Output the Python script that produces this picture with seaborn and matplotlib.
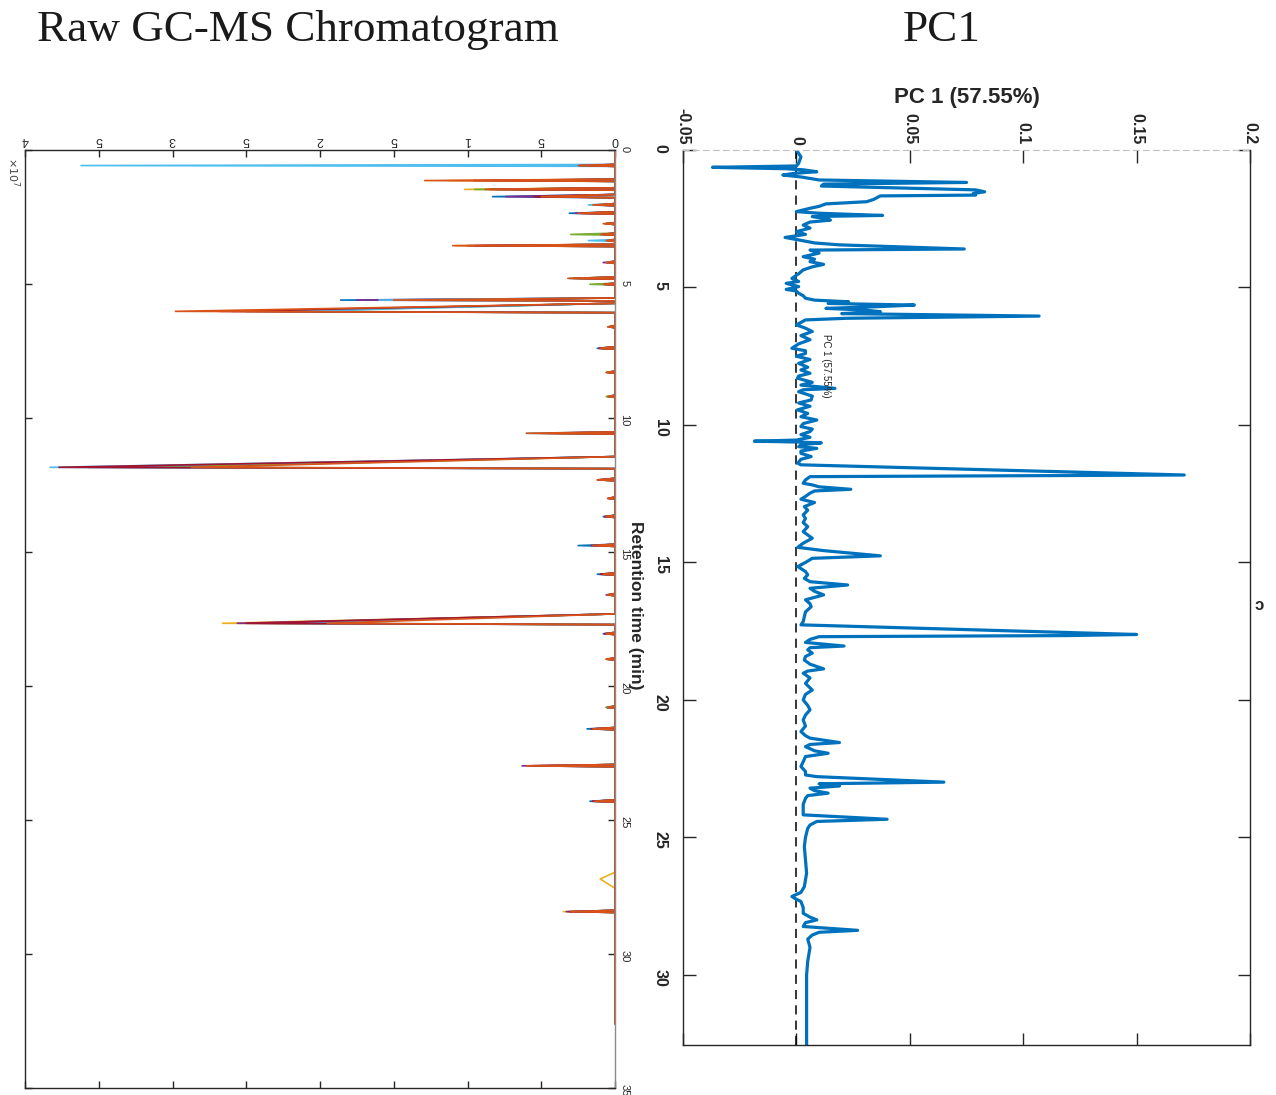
import numpy as np
import pandas as pd
import matplotlib
matplotlib.use("Agg")
import matplotlib.pyplot as plt
import seaborn as sns

# ---------------- data: raw GC-MS chromatogram (intensity x1e7) ----------------
peak_times = [0.58, 1.14, 1.47, 1.74, 2.05, 2.36, 2.75, 3.15, 3.38, 3.57, 4.20, 4.79,
              5.01, 5.60, 6.02, 6.60, 7.40, 8.30, 9.20, 10.57, 11.84, 12.31, 13.00,
              13.68, 14.76, 15.83, 16.60, 17.66, 18.05, 19.00, 20.80, 21.60, 22.98,
              24.30, 27.20, 28.42]
peak_rise = [0.04, 0.05, 0.06, 0.08, 0.05, 0.05, 0.04, 0.05, 0.04, 0.05, 0.05, 0.05,
             0.04, 0.08, 0.30, 0.05, 0.06, 0.05, 0.05, 0.05, 0.40, 0.06, 0.05,
             0.05, 0.05, 0.05, 0.05, 0.35, 0.05, 0.05, 0.05, 0.05, 0.05,
             0.05, 0.25, 0.05]
peak_fall = [0.03, 0.03, 0.03, 0.04, 0.03, 0.03, 0.03, 0.03, 0.03, 0.03, 0.03, 0.03,
             0.03, 0.03, 0.05, 0.03, 0.03, 0.03, 0.03, 0.03, 0.05, 0.03, 0.03,
             0.03, 0.03, 0.03, 0.03, 0.05, 0.03, 0.03, 0.03, 0.03, 0.03,
             0.03, 0.35, 0.03]
sample_1 = [0.20, 0.82, 0.70, 0.83, 0.12, 0.31, 0.06, 0.08, 0.05, 0.90, 0.05, 0.25,
            0.08, 1.86, 2.50, 0.04, 0.12, 0.05, 0.04, 0.40, 3.30, 0.10, 0.04,
            0.08, 0.25, 0.12, 0.04, 2.40, 0.08, 0.05, 0.06, 0.19, 0.55, 0.17, 0.00, 0.24]
sample_2 = [0.25, 1.29, 0.88, 0.50, 0.15, 0.25, 0.08, 0.10, 0.06, 1.10, 0.06, 0.32,
            0.08, 1.50, 2.98, 0.05, 0.10, 0.06, 0.05, 0.60, 2.87, 0.12, 0.05,
            0.06, 0.15, 0.08, 0.05, 1.95, 0.06, 0.06, 0.05, 0.15, 0.60, 0.14, 0.00, 0.30]
sample_3 = [0.15, 1.13, 1.02, 0.40, 0.10, 0.20, 0.05, 0.06, 0.05, 1.08, 0.04, 0.20,
            0.07, 1.40, 2.50, 0.03, 0.08, 0.04, 0.05, 0.55, 3.41, 0.08, 0.04,
            0.05, 0.12, 0.07, 0.04, 2.66, 0.05, 0.05, 0.04, 0.12, 0.50, 0.12, 0.10, 0.35]
sample_4 = [0.41, 0.60, 0.80, 0.74, 0.12, 0.27, 0.06, 0.07, 0.04, 0.95, 0.08, 0.22,
            0.06, 1.75, 2.60, 0.04, 0.10, 0.05, 0.04, 0.50, 3.57, 0.10, 0.05,
            0.07, 0.14, 0.09, 0.06, 2.56, 0.07, 0.04, 0.05, 0.14, 0.63, 0.15, 0.00, 0.33]
sample_5 = [0.10, 0.70, 0.95, 0.45, 0.08, 0.15, 0.05, 0.30, 0.05, 0.85, 0.05, 0.30,
            0.17, 1.30, 2.30, 0.04, 0.09, 0.06, 0.06, 0.35, 3.11, 0.09, 0.04,
            0.06, 0.10, 0.08, 0.05, 2.32, 0.06, 0.05, 0.06, 0.10, 0.45, 0.10, 0.00, 0.25]
sample_6 = [3.62, 0.50, 0.60, 0.30, 0.18, 0.12, 0.07, 0.10, 0.18, 0.80, 0.06, 0.31,
            0.08, 1.60, 2.20, 0.05, 0.08, 0.04, 0.05, 0.60, 3.83, 0.11, 0.03,
            0.05, 0.12, 0.07, 0.04, 2.20, 0.05, 0.05, 0.05, 0.12, 0.50, 0.12, 0.00, 0.28]
sample_7 = [0.24, 0.96, 0.85, 0.55, 0.10, 0.22, 0.06, 0.09, 0.05, 1.00, 0.05, 0.28,
            0.07, 1.10, 2.68, 0.04, 0.11, 0.05, 0.04, 0.45, 3.77, 0.12, 0.04,
            0.07, 0.16, 0.10, 0.05, 2.50, 0.07, 0.06, 0.05, 0.16, 0.58, 0.15, 0.00, 0.31]
samples = [sample_1, sample_2, sample_3, sample_4, sample_5, sample_6, sample_7]
sample_names = ["S1", "S2", "S3", "S4", "S5", "S6", "S7"]
draw_order = ["S1", "S3", "S4", "S5", "S6", "S7", "S2"]
run_end = 32.6
matlab_colors = {"S1": "#0072BD", "S2": "#D95319", "S3": "#EDB120", "S4": "#7E2F8E",
                 "S5": "#77AC30", "S6": "#4DBEEE", "S7": "#A2142F"}
intensity_ticks = [0, 0.5, 1, 1.5, 2, 2.5, 3, 3.5, 4]
intensity_tick_labels = ["0", "5", "1", "5", "2", "5", "3", "5", "4"]
time_ticks_left = [0, 5, 10, 15, 20, 25, 30, 35]

# ---------------- data: PC1 loadings ----------------
pc1_time = [0.00, 0.25, 0.48, 0.58, 0.63, 0.68, 0.72, 0.79, 0.85, 0.91, 0.98, 1.09, 1.18, 1.24,
            1.31, 1.45, 1.52, 1.58, 1.64, 1.67, 1.80, 1.88, 1.96, 2.05, 2.12, 2.24, 2.30, 2.38,
            2.42, 2.48, 2.55, 2.62, 2.73, 2.84, 2.97, 3.07, 3.18, 3.27, 3.38, 3.45, 3.60, 3.64,
            3.75, 3.88, 3.97, 4.06, 4.16, 4.25, 4.36, 4.50, 4.67, 4.78, 4.85, 4.97, 5.07, 5.13,
            5.21, 5.30, 5.39, 5.46, 5.52, 5.58, 5.64, 5.70, 5.76, 5.82, 5.88, 5.95, 6.04, 6.12,
            6.18, 6.27, 6.36, 6.48, 6.60, 6.75, 6.90, 7.05, 7.21, 7.30, 7.40, 7.50, 7.62, 7.76,
            7.90, 8.00, 8.12, 8.22, 8.30, 8.45, 8.55, 8.67, 8.72, 8.79, 8.95, 9.09, 9.20, 9.32,
            9.45, 9.58, 9.70, 9.82, 9.95, 10.06, 10.15, 10.24, 10.35, 10.45, 10.55, 10.59, 10.62,
            10.65, 10.72, 10.79, 10.85, 10.95, 11.03, 11.15, 11.25, 11.39, 11.45, 11.82, 11.88,
            12.00, 12.12, 12.18, 12.25, 12.34, 12.40, 12.48, 12.60, 12.70, 12.82, 12.97, 13.10,
            13.27, 13.40, 13.55, 13.70, 13.88, 14.00, 14.12, 14.30, 14.45, 14.57, 14.76, 14.85,
            15.00, 15.15, 15.33, 15.45, 15.58, 15.70, 15.82, 15.94, 16.05, 16.18, 16.36, 16.50,
            16.61, 16.80, 16.97, 17.15, 17.27, 17.62, 17.66, 17.70, 17.80, 17.91, 18.04, 18.10,
            18.18, 18.30, 18.42, 18.55, 18.70, 18.87, 18.95, 19.03, 19.20, 19.40, 19.64, 19.80,
            20.00, 20.20, 20.36, 20.55, 20.73, 20.95, 21.15, 21.30, 21.39, 21.55, 21.62, 21.70,
            21.85, 21.94, 22.06, 22.25, 22.42, 22.60, 22.73, 22.79, 22.99, 23.05, 23.13, 23.21,
            23.30, 23.39, 23.48, 23.58, 23.80, 24.00, 24.18, 24.34, 24.42, 24.55, 24.67, 25.00,
            25.33, 25.80, 26.30, 26.79, 27.00, 27.15, 27.25, 27.33, 27.55, 27.76, 27.90, 28.00,
            28.10, 28.24, 28.38, 28.45, 28.55, 28.70, 29.00, 29.50, 30.00, 30.50, 31.00, 31.50,
            32.00, 32.55]
pc1_value = [0.000, 0.002, 0.001, 0.000, -0.037, -0.005, 0.003, 0.009, -0.001, -0.006, 0.002, 0.010, 0.075, 0.012,
             0.011, 0.079, 0.083, 0.078, 0.079, 0.037, 0.034, 0.031, 0.013, 0.010, 0.006, 0.000, 0.010, 0.038,
             0.007, 0.012, 0.015, 0.006, 0.003, 0.006, 0.000, 0.004, -0.005, 0.001, 0.008, 0.019, 0.074, 0.006,
             0.010, 0.003, 0.008, 0.006, 0.012, 0.007, 0.003, 0.001, -0.002, 0.001, -0.0045, 0.001, -0.0045, 0.000,
             0.001, 0.003, 0.004, 0.008, 0.023, 0.014, 0.052, 0.035, 0.013, 0.030, 0.037, 0.020, 0.107, 0.022,
             0.004, 0.002, 0.000, 0.004, 0.007, 0.002, 0.006, 0.001, -0.002, 0.004, 0.004, 0.000, 0.006, 0.001,
             0.005, 0.002, 0.006, 0.001, 0.0005, 0.007, 0.002, 0.017, 0.003, 0.001, 0.007, 0.0065, 0.001, 0.006,
             0.0005, 0.005, 0.002, 0.009, 0.003, 0.002, 0.007, 0.006, 0.002, 0.006, 0.000, -0.0185, 0.000,
             0.011, 0.002, 0.001, 0.009, 0.002, 0.002, 0.0065, 0.002, 0.0006, 0.002, 0.171, 0.006,
             0.004, 0.003, 0.007, 0.010, 0.024, 0.008, 0.006, 0.004, 0.002, 0.008, 0.0035, 0.005,
             0.003, 0.004, 0.003, 0.005, 0.003, 0.005, 0.007, 0.003, 0.0006, 0.012, 0.037, 0.007,
             0.004, 0.0006, 0.004, 0.005, 0.0035, 0.006, 0.0226, 0.006, 0.008, 0.012, 0.004, 0.006,
             0.0065, 0.004, 0.0035, 0.003, 0.002, 0.150, 0.119, 0.010, 0.006, 0.004, 0.021, 0.006,
             0.005, 0.007, 0.004, 0.0035, 0.006, 0.012, 0.005, 0.003, 0.006, 0.004, 0.007, 0.004,
             0.003, 0.005, 0.006, 0.004, 0.003, 0.004, 0.002, 0.004, 0.006, 0.019, 0.006, 0.004,
             0.008, 0.014, 0.004, 0.003, 0.002, 0.004, 0.004, 0.009, 0.065, 0.010, 0.019, 0.006,
             0.008, 0.014, 0.005, 0.004, 0.003, 0.003, 0.003, 0.040, 0.009, 0.006, 0.005, 0.004,
             0.0035, 0.004, 0.0045, 0.0035, 0.002, -0.002, 0.000, 0.002, 0.003, 0.003, 0.006, 0.009,
             0.004, 0.003, 0.027, 0.010, 0.007, 0.005, 0.006, 0.005, 0.0045, 0.0045, 0.0045, 0.0045,
             0.0045, 0.0045]
pc1_ticks = [-0.05, 0, 0.05, 0.1, 0.15, 0.2]
pc1_tick_labels = ["-0.05", "0", "0.05", "0.1", "0.15", "0.2"]
time_ticks_right = [0, 5, 10, 15, 20, 25, 30]

# ---------------- build long table for the raw traces ----------------
rows = []
for name, heights in zip(sample_names, samples):
    rows.append((name, 0.0, 0.0))
    for t, r, f, h in zip(peak_times, peak_rise, peak_fall, heights):
        rows.append((name, t - r, 0.0))
        rows.append((name, t, h))
        rows.append((name, t + f, 0.0))
    rows.append((name, run_end, 0.0))
raw = pd.DataFrame(rows, columns=["sample", "time", "intensity"])
pc1 = pd.DataFrame({"time": pc1_time, "loading": pc1_value})

# ---------------- figure ----------------
sns.set_style("white")
plt.rcParams["font.family"] = ["Liberation Sans", "DejaVu Sans"]
W, H = 1276, 1095
fig = plt.figure(figsize=(W / 100, H / 100), dpi=100)

axL = fig.add_axes([25 / W, 1 - 1088 / H, 590 / W, 938 / H])
axR = fig.add_axes([683 / W, 1 - 1045 / H, 567 / W, 895 / H])

# left panel
sns.lineplot(data=raw, x="intensity", y="time", hue="sample", hue_order=draw_order,
             palette=matlab_colors, orient="y", sort=False, estimator=None,
             legend=False, lw=1.2, ax=axL)
axL.set_xlim(4, 0)
axL.set_ylim(35, 0)
axL.set_xlabel("")
axL.set_ylabel("")
axL.set_xticks(intensity_ticks)
axL.set_xticklabels(intensity_tick_labels)
axL.set_yticks(time_ticks_left)
axL.set_yticklabels([str(v) for v in time_ticks_left])
axL.tick_params(axis="x", top=True, bottom=True, labeltop=True, labelbottom=False,
                direction="in", length=5, width=1, labelrotation=180, labelsize=9,
                pad=3, colors="#262626")
axL.tick_params(axis="y", left=True, right=True, labelleft=False, labelright=True,
                direction="in", length=5, width=1, labelrotation=-90, labelsize=8,
                pad=3, colors="#262626")
for side in ["top", "left", "bottom"]:
    axL.spines[side].set_color("#262626")
    axL.spines[side].set_linewidth(1.0)
axL.spines["right"].set_color("#8a8a8a")
axL.spines["right"].set_linewidth(1.0)

# right panel
axR.axvline(0, color="black", lw=1.1, ls=(0, (6, 4)), zorder=1)
sns.lineplot(data=pc1, x="loading", y="time", orient="y", sort=False, estimator=None,
             color="#0072BD", lw=2.3, ax=axR, zorder=2)
axR.set_xlim(-0.05, 0.2)
axR.set_ylim(32.55, 0)
axR.set_xlabel("")
axR.set_ylabel("")
axR.set_xticks(pc1_ticks)
axR.set_xticklabels(pc1_tick_labels, fontweight="bold")
axR.set_yticks(time_ticks_right)
axR.set_yticklabels([str(v) for v in time_ticks_right], fontweight="bold")
axR.tick_params(axis="x", top=True, bottom=True, labeltop=True, labelbottom=False,
                direction="in", length=9, width=1, labelrotation=-90, labelsize=11.5,
                pad=4, colors="#262626")
axR.tick_params(axis="y", left=True, right=True, labelleft=True, labelright=False,
                direction="in", length=9, width=1, labelrotation=-90, labelsize=11.5,
                pad=11, colors="#262626")
for side in ["left", "right", "bottom"]:
    axR.spines[side].set_color("#262626")
    axR.spines[side].set_linewidth(1.0)
axR.spines["top"].set_color("#c0c0c0")
axR.spines["top"].set_linestyle((0, (5, 4)))
axR.text(0.0132, 7.85, "PC 1 (57.55%)", rotation=-90, fontsize=7, ha="center",
         va="center", color="#222222")

# texts
fig.text(298 / W, 1 - 30 / H, "Raw GC-MS Chromatogram", ha="center", va="center",
         family=["Liberation Serif", "DejaVu Serif"], fontsize=32.5, color="#1a1a1a")
fig.text(942 / W, 1 - 30 / H, "PC1", ha="center", va="center",
         family=["Liberation Serif", "DejaVu Serif"], fontsize=32.5, color="#1a1a1a")
fig.text(967 / W, 1 - 97 / H, "PC 1 (57.55%)", ha="center", va="center",
         fontsize=16, fontweight="bold", color="#262626")
fig.text(636 / W, 1 - 605 / H, "Retention time (min)", rotation=-90, ha="center",
         va="center", fontsize=12.5, fontweight="bold", color="#262626")
fig.text(13 / W, 1 - 172 / H, r"$\times10^7$", rotation=-90, ha="center", va="center",
         fontsize=8, color="#444444")
fig.text(1259 / W, 1 - 605 / H, "ɔ", ha="center", va="center", fontsize=12,
         fontweight="bold", color="#262626")

fig.savefig("out.png", dpi=100)
